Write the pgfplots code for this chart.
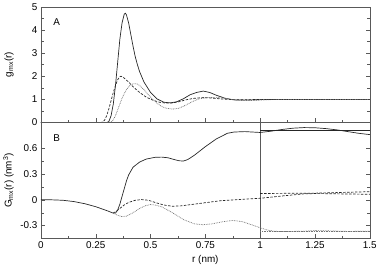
\documentclass[border=0pt]{standalone}
\usepackage{pgfplots}
\pgfplotsset{compat=1.18}
\usepackage{fontspec}
\setmainfont{Liberation Sans}
\begin{document}
\fontsize{10}{12}\selectfont
\begin{tikzpicture}
\pgfplotsset{
  common/.style={
    width=333pt, height=117.3pt, scale only axis,
    xmin=0, xmax=1.5,
    xtick={0,0.25,0.5,0.75,1,1.25,1.5},
    minor x tick num=1,
    xtick pos=lower, ytick pos=both,
    axis line style={black!65},
    every tick/.style={black!65},
    tick label style={font=\fontsize{10}{12}\selectfont},
    label style={font=\fontsize{10}{12}\selectfont},
    /pgf/number format/assume math mode=true,
    ylabel style={at={(axis description cs:-0.072,0.5)}},
  },
  solidc/.style={black!85, line width=0.7pt},
  dashc/.style={black!85, line width=0.7pt, dash pattern=on 2.5pt off 1.5pt},
  dotc/.style={black!55, line width=0.7pt, dash pattern=on 0.8pt off 0.9pt},
}
% ---- Panel A ----
\begin{axis}[common, at={(0,117.3pt)}, anchor=south west,
  ymin=0, ymax=5, ytick={0,1,2,3,4,5}, minor y tick num=1,
  xticklabels={},
  ylabel={g\textsubscript{mx}(r)}]
\node[anchor=center] at (axis description cs:0.048,0.87) {A};
\addplot[solidc] coordinates {
(0,0) (0.30,0) (0.31,0.05) (0.32,0.3) (0.33,0.8) (0.34,1.6) (0.35,2.6) (0.36,3.6)
(0.37,4.3) (0.38,4.68) (0.385,4.72) (0.39,4.65) (0.40,4.3) (0.41,3.8) (0.42,3.3)
(0.43,2.85) (0.44,2.5) (0.45,2.2) (0.47,1.75) (0.50,1.3) (0.53,1.02) (0.56,0.88)
(0.59,0.85) (0.62,0.9) (0.65,1.03) (0.68,1.2) (0.71,1.3) (0.74,1.36) (0.77,1.3)
(0.80,1.18) (0.84,1.05) (0.88,0.98) (0.93,0.97) (1.0,0.99) (1.1,1.0) (1.2,1.0)
(1.3,1.0) (1.4,1.0) (1.5,1.0)};
\addplot[dashc] coordinates {
(0,0) (0.27,0) (0.28,0.02) (0.29,0.1) (0.30,0.3) (0.31,0.6) (0.32,0.95) (0.33,1.3)
(0.34,1.6) (0.35,1.85) (0.36,1.98) (0.365,2.0) (0.37,1.98) (0.38,1.92) (0.40,1.75)
(0.42,1.55) (0.45,1.3) (0.48,1.1) (0.51,0.97) (0.54,0.88) (0.57,0.84) (0.60,0.85)
(0.63,0.9) (0.66,0.98) (0.70,1.05) (0.74,1.08) (0.78,1.06) (0.82,1.02) (0.88,0.99)
(0.95,0.99) (1.0,1.0) (1.2,1.0) (1.5,1.0)};
\addplot[dotc] coordinates {
(0,0) (0.31,0) (0.32,0.03) (0.33,0.12) (0.34,0.3) (0.35,0.55) (0.36,0.8) (0.37,1.05)
(0.38,1.25) (0.39,1.42) (0.40,1.55) (0.41,1.63) (0.42,1.67) (0.43,1.68) (0.44,1.66)
(0.45,1.6) (0.47,1.42) (0.49,1.2) (0.51,1.0) (0.53,0.83) (0.55,0.7) (0.57,0.62)
(0.60,0.58) (0.63,0.62) (0.66,0.75) (0.69,0.9) (0.72,1.02) (0.76,1.08) (0.80,1.09)
(0.84,1.05) (0.88,0.98) (0.92,0.95) (0.96,0.95) (1.0,0.97) (1.05,0.99) (1.1,1.0)
(1.3,1.0) (1.5,1.0)};
\end{axis}
% ---- Panel B ----
\begin{axis}[common, at={(0,0)}, anchor=south west,
  ymin=-0.45, ymax=0.9, ytick={-0.3,0,0.3,0.6}, yticklabels={-0.3,0,0.3,0.6},
  minor y tick num=1,
  xticklabels={0,0.25,0.5,0.75,1,1.25,1.5},
  xlabel={r (nm)},
  ylabel={G\textsubscript{mx}(r) (nm\textsuperscript{3})}]
\node[anchor=center] at (axis description cs:0.048,0.87) {B};
\addplot[black!65, line width=0.8pt] coordinates {(1,-0.45) (1,0.9)};
\addplot[solidc] coordinates {
(0,0) (0.05,0) (0.1,-0.005) (0.15,-0.02) (0.2,-0.045) (0.25,-0.08) (0.3,-0.125)
(0.33,-0.155) (0.34,-0.155) (0.35,-0.12) (0.36,-0.05) (0.37,0.04) (0.38,0.13)
(0.39,0.22) (0.40,0.29) (0.42,0.38) (0.45,0.44) (0.48,0.475) (0.52,0.495)
(0.55,0.498) (0.58,0.49) (0.60,0.475) (0.63,0.455) (0.65,0.452) (0.67,0.47)
(0.70,0.52) (0.75,0.62) (0.80,0.71) (0.85,0.775) (0.88,0.79) (0.93,0.795)
(1.0,0.785) (1.05,0.80) (1.1,0.82) (1.15,0.835) (1.2,0.842) (1.25,0.84) (1.3,0.83)
(1.35,0.815) (1.4,0.795) (1.45,0.775) (1.5,0.76)};
\addplot[solidc] coordinates {(1,0.814) (1.5,0.814)};
\addplot[dashc] coordinates {
(0.33,-0.152) (0.34,-0.14) (0.36,-0.10) (0.38,-0.06) (0.40,-0.03) (0.43,-0.005)
(0.46,0.003) (0.49,-0.005) (0.52,-0.03) (0.56,-0.06) (0.60,-0.075) (0.64,-0.07)
(0.70,-0.05) (0.76,-0.03) (0.82,-0.01) (0.88,0.0) (0.94,0.01) (1.0,0.018)
(1.1,0.045) (1.2,0.07) (1.25,0.073) (1.3,0.072) (1.4,0.068) (1.5,0.065)};
\addplot[dashc] coordinates {(1,0.074) (1.25,0.078) (1.5,0.095)};
\addplot[dotc] coordinates {
(0.33,-0.155) (0.35,-0.18) (0.37,-0.196) (0.39,-0.19) (0.42,-0.15) (0.45,-0.10)
(0.48,-0.065) (0.50,-0.055) (0.52,-0.06) (0.55,-0.08) (0.60,-0.15) (0.65,-0.23)
(0.70,-0.28) (0.74,-0.29) (0.78,-0.28) (0.83,-0.255) (0.875,-0.24) (0.92,-0.255)
(0.96,-0.29) (1.0,-0.325) (1.03,-0.35) (1.06,-0.365) (1.1,-0.37) (1.2,-0.365)
(1.25,-0.358) (1.3,-0.36) (1.4,-0.368) (1.5,-0.365)};
\addplot[dotc] coordinates {(1,-0.372) (1.5,-0.372)};
\end{axis}
\end{tikzpicture}
\end{document}
